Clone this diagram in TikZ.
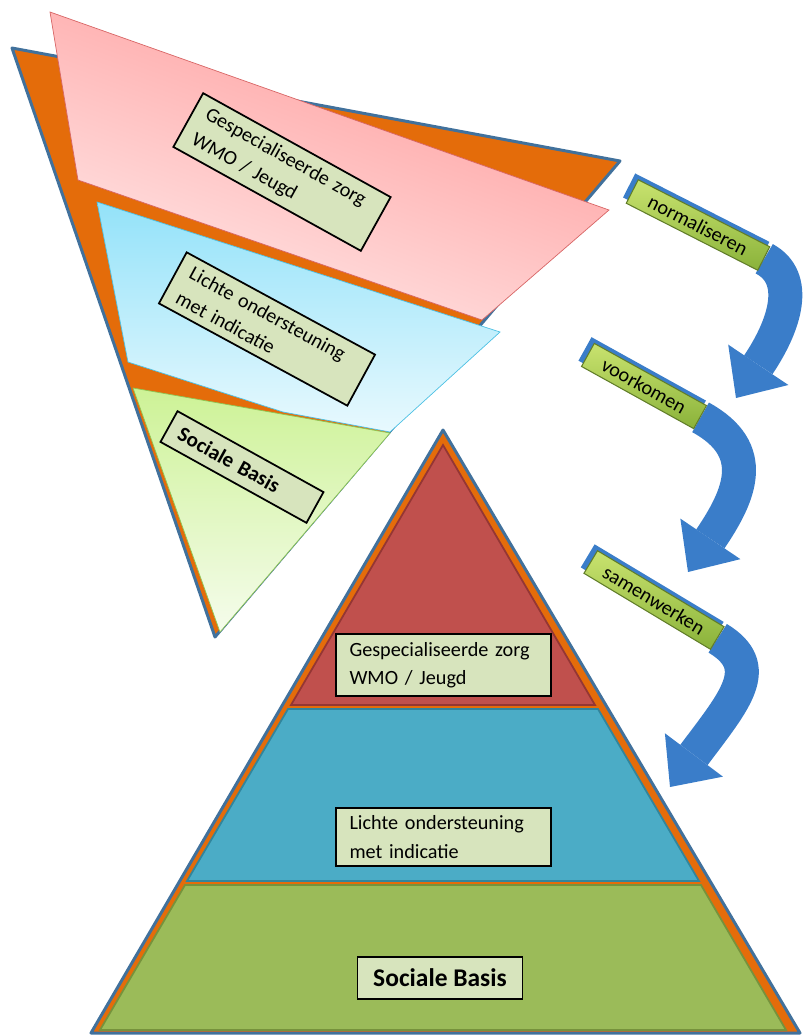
\documentclass[tikz,border=0pt]{standalone}
\usepackage{fontspec}
\setmainfont{Carlito}
\usetikzlibrary{arrows.meta,backgrounds,shadows}

\definecolor{backorange}{HTML}{E46C0A}
\definecolor{edgeblue}{HTML}{41719C}
\definecolor{pinkdark}{HTML}{FF9999}
\definecolor{pinklight}{HTML}{FFE8E8}
\definecolor{pinkedge}{HTML}{D86666}
\definecolor{cyandark}{HTML}{93E2F9}
\definecolor{cyanlight}{HTML}{E8F9FE}
\definecolor{cyanedge}{HTML}{4DC1E4}
\definecolor{limedark}{HTML}{CDF296}
\definecolor{limelight}{HTML}{F5FCEC}
\definecolor{limeedge}{HTML}{8EC654}
\definecolor{pyrred}{HTML}{C0504D}
\definecolor{pyrredline}{HTML}{943634}
\definecolor{pyrblue}{HTML}{4BACC6}
\definecolor{pyrblueline}{HTML}{31859C}
\definecolor{pyrgreen}{HTML}{9BBB59}
\definecolor{pyrgreenline}{HTML}{76923C}
\definecolor{boxfill}{HTML}{D7E4BD}
\definecolor{arrowblue}{HTML}{3A7DC9}
\definecolor{steplight}{HTML}{C9E36F}
\definecolor{stepdark}{HTML}{8AB23A}

\tikzset{
  zorgbox/.style={draw=black, line width=1pt, fill=boxfill, align=left,
    font=\fontsize{11.5}{16}\selectfont, text width=107pt,
    inner xsep=7.5pt, inner ysep=4.5pt},
  basisbox/.style={draw=black, line width=1pt, fill=boxfill,
    font=\bfseries\fontsize{14.5}{17}\selectfont, minimum width=94pt,
    minimum height=24pt},
  stepbox/.style={draw=stepdark!70!black, line width=0.6pt, top color=steplight,
    bottom color=stepdark, font=\fontsize{11.5}{14}\selectfont,
    minimum height=15pt, inner ysep=1pt,
    general shadow={fill=arrowblue, shadow xshift=-1pt, shadow yshift=3pt,
      shadow scale=1.02}},
  bendarrow/.style={draw=arrowblue, line width=0.68cm,
    -{Triangle[length=0.8cm, width=1.45cm, line width=0pt]}}
}

\begin{document}
\begin{tikzpicture}[x=0.02cm, y=-0.02cm]
  \useasboundingbox (0,0) rectangle (803,1036);

  % Funnel (turned over)
  \draw[fill=backorange, draw=edgeblue, line width=1.7pt, line join=round]
    (12,48) -- (620,161) -- (215,637) -- cycle;
  \draw[draw=pinkedge, top color=pinkdark, bottom color=pinklight, shading angle=-20]
    (50,12) -- (609,210) -- (482,320) -- (78,180) -- cycle;
  \draw[draw=cyanedge, top color=cyandark, bottom color=cyanlight]
    (97,202) -- (500,332) -- (390,432) -- (283,412) -- (128,362) -- cycle;
  \draw[draw=limeedge, top color=limedark, bottom color=limelight]
    (133,388) -- (390,433) -- (220,632) -- cycle;

  \node[zorgbox, rotate=-29] (funnelTop) at (282,172) {Gespecialiseerde zorg\\WMO / Jeugd};
  \node[zorgbox, rotate=-28.5] (funnelMid) at (267,329) {Lichte ondersteuning\\met indicatie};
  \node[zorgbox, rotate=-29, font=\bfseries\fontsize{12}{14}\selectfont,
    text width=81pt, inner xsep=7pt, minimum height=20pt] (funnelBase) at (242,467) {Sociale Basis};

  % Pyramid
  \draw[fill=backorange, draw=edgeblue, line width=1.7pt, line join=round]
    (443,430) -- (800,1033) -- (91,1033) -- cycle;
  \draw[fill=pyrred, draw=pyrredline, line width=1pt]
    (443,445) -- (595,705) -- (291,705) -- cycle;
  \draw[fill=pyrblue, draw=pyrblueline, line width=1pt]
    (288,709) -- (598,709) -- (699,881) -- (187,881) -- cycle;
  \draw[fill=pyrgreen, draw=pyrgreenline, line width=1pt]
    (185,885) -- (701,885) -- (786,1030) -- (100,1030) -- cycle;

  \node[zorgbox] (pyrTop) at (443.5,665) {Gespecialiseerde zorg\\WMO / Jeugd};
  \node[zorgbox] (pyrMid) at (443.5,837) {Lichte ondersteuning\\met indicatie};
  \node[basisbox] (pyrBase) at (440,978) {Sociale Basis};

  % Steps with bent arrows
  \node[stepbox, rotate=-27, minimum width=84pt] (normaliseren) at (698,225) {normaliseren};
  \node[stepbox, rotate=-29, minimum width=73pt] (voorkomen) at (644,386) {voorkomen};
  \node[stepbox, rotate=-31, minimum width=84pt] (samenwerken) at (654,600) {samenwerken};
  \coordinate (normTip) at (736,398);
  \coordinate (voorTip) at (688,572);
  \coordinate (samenTip) at (670,787);
  \begin{scope}[on background layer]
    \draw[bendarrow] (normaliseren.east) .. controls (800,278) and (785,325) .. (normTip);
    \draw[bendarrow] (voorkomen.east) .. controls (760,450) and (740,495) .. (voorTip);
    \draw[bendarrow] (samenwerken.east) .. controls (765,667) and (735,700) .. (samenTip);
  \end{scope}
\end{tikzpicture}
\end{document}
